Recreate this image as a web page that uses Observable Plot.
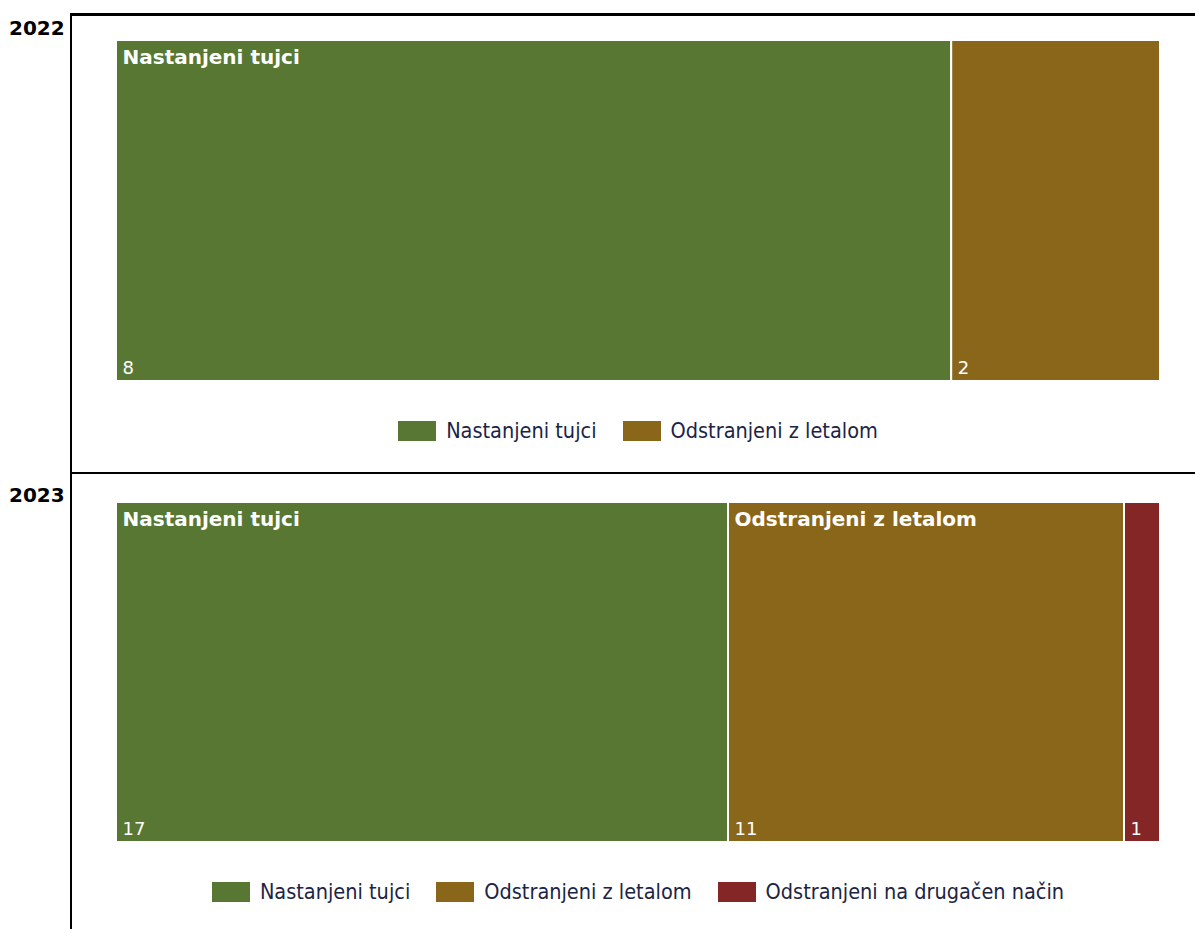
<!DOCTYPE html>
<html>
<head>
<meta charset="utf-8">
<script src="https://cdn.jsdelivr.net/npm/d3@7"></script>
<script src="https://cdn.jsdelivr.net/npm/@observablehq/plot@0.6"></script>
<style>
  html, body { margin: 0; padding: 0; background: #fff; }
  body { width: 1195px; height: 929px; position: relative; overflow: hidden; font-family: "DejaVu Sans", sans-serif; }
  .line { position: absolute; background: #000; z-index: 5; }
  .year { position: absolute; left: 9px; font: bold 20px "DejaVu Sans", sans-serif; color: #000; }
  .panel { position: absolute; left: 0; }
  .legend { position: absolute; left: 117px; width: 1042px; display: flex; justify-content: center; align-items: center; gap: 26px;
            font: 21.5px "DejaVu Sans Condensed", "DejaVu Sans", sans-serif; color: #1c2444; }
  .item { display: flex; align-items: center; }
  .sw { width: 38px; height: 20px; margin-right: 10px; }
</style>
</head>
<body>
<div class="line" style="left:70px; top:13px; width:1125px; height:3px;"></div>
<div class="line" style="left:70px; top:13px; width:2px; height:916px;"></div>
<div class="line" style="left:70px; top:472px; width:1125px; height:2px;"></div>
<div id="root"></div>
<script>
const categories = ["Nastanjeni tujci", "Odstranjeni z letalom", "Odstranjeni na drugačen način"];
const colors = ["#587733", "#8a661b", "#842626"];
const years = ["2022", "2023"];
const values2022 = [8, 2];
const values2023 = [17, 11, 1];

const panels = [
  {year: years[0], values: values2022, top: 0, marginTop: 40, barH: 341, legendTop: 418, yearTop: 16},
  {year: years[1], values: values2023, top: 473, marginTop: 29, barH: 340, legendTop: 879, yearTop: 483}
];

const root = document.getElementById("root");

for (const p of panels) {
  const total = d3.sum(p.values);
  const starts = d3.cumsum([0, ...p.values]);
  const data = p.values.map((v, i) => ({cat: categories[i], value: v, start: starts[i], end: starts[i] + v, share: v / total}));

  const chart = Plot.plot({
    width: 1195,
    height: p.marginTop + p.barH + 10,
    marginLeft: 116,
    marginRight: 35,
    marginTop: p.marginTop,
    marginBottom: 10,
    style: {background: "transparent"},
    x: {domain: [0, total], axis: null},
    y: {domain: [0, 1], axis: null},
    color: {domain: categories, range: colors},
    marks: [
      Plot.rect(data, {x1: "start", x2: "end", y1: 0, y2: 1, fill: "cat", stroke: "white", strokeWidth: 2}),
      Plot.text(data.filter(d => d.share > 0.25), {x: "start", y: 1, text: "cat", dx: 6, dy: 17, textAnchor: "start",
        fill: "white", fontWeight: "bold", fontSize: 20, fontFamily: "DejaVu Sans, sans-serif"}),
      Plot.text(data, {x: "start", y: 0, text: d => String(d.value), dx: 6, dy: -13, textAnchor: "start",
        fill: "white", fontSize: 18, fontFamily: "DejaVu Sans, sans-serif"})
    ]
  });
  const wrap = document.createElement("div");
  wrap.className = "panel";
  wrap.style.top = p.top + "px";
  wrap.appendChild(chart);
  root.appendChild(wrap);

  const yl = document.createElement("div");
  yl.className = "year";
  yl.style.top = p.yearTop + "px";
  yl.textContent = p.year;
  root.appendChild(yl);

  const lg = document.createElement("div");
  lg.className = "legend";
  lg.style.top = p.legendTop + "px";
  data.forEach((d, i) => {
    const it = document.createElement("div");
    it.className = "item";
    const sw = document.createElement("span");
    sw.className = "sw";
    sw.style.background = colors[i];
    const tx = document.createElement("span");
    tx.textContent = d.cat;
    it.appendChild(sw); it.appendChild(tx);
    lg.appendChild(it);
  });
  root.appendChild(lg);
}
</script>
</body>
</html>
